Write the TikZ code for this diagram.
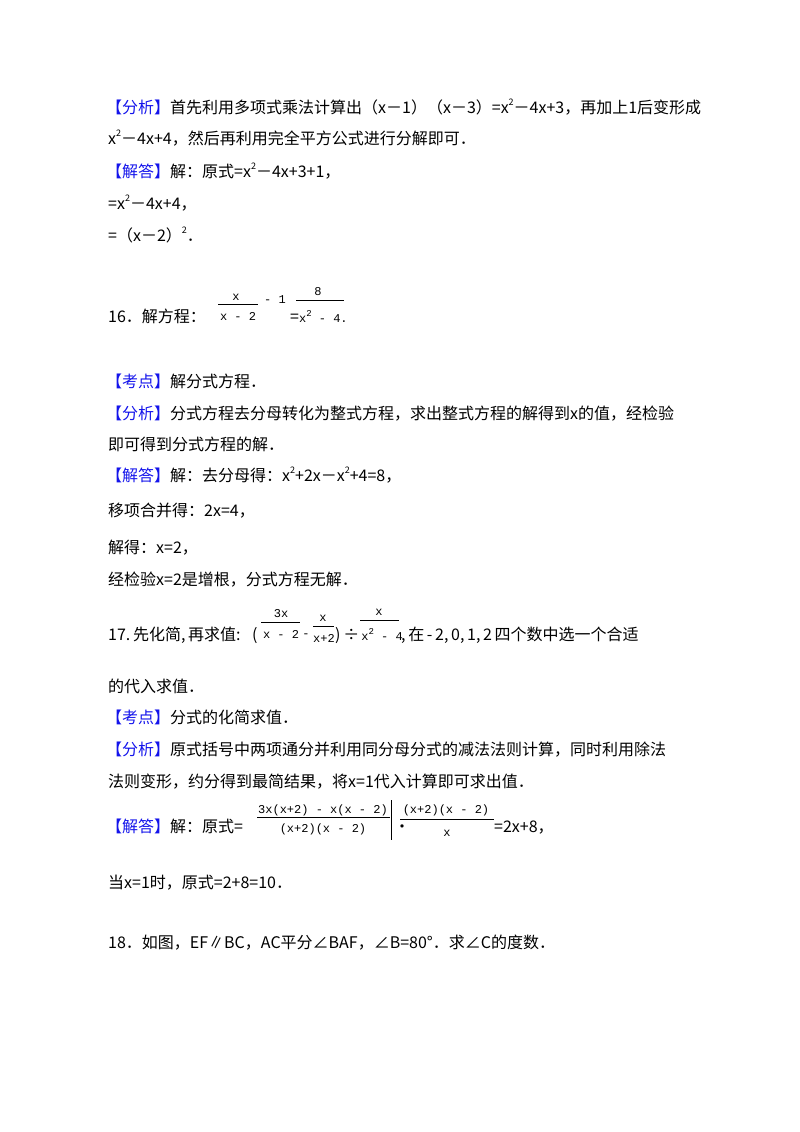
\documentclass[tikz,border=0pt]{standalone}
\usepackage{fontspec}
\setmainfont{Noto Sans CJK SC}
\newfontfamily\fr{Liberation Mono}
\definecolor{bl}{RGB}{20,20,235}
\newcommand{\hd}[1]{{\color{bl}【#1】}}
\newcommand{\sq}{\raisebox{0.5em}{\fontsize{9}{9}\selectfont 2}}
\begin{document}
\begin{tikzpicture}[x=1pt,y=-1pt,
  t/.style={anchor=base west,inner sep=0pt,font=\fontsize{16}{18}\selectfont},
  f/.style={inner sep=0pt,font=\fr\fontsize{12}{14}\selectfont},
  fl/.style={line width=0.8pt}]
\useasboundingbox (0,0) rectangle (800,1132);
\node[t] (a1) at (106,113) {\hd{分析}首先利用多项式乘法计算出（x－1）（x－3）=x\sq－4x+3，再加上1后变形成};
\node[t] (a2) at (108,144) {x\sq－4x+4，然后再利用完全平方公式进行分解即可．};
\node[t] (a3) at (106,177) {\hd{解答}解：原式=x\sq－4x+3+1，};
\node[t] (a4) at (108,209) {=x\sq－4x+4，};
\node[t] (a5) at (108,241) {=（x－2）\sq．};
% 16
\node[t] (q16) at (108,322) {16．解方程：};
\node[f] (n1) at (236,297) {x};
\draw[fl] (218,304) -- (258,304);
\node[f] (d1) at (238,316) {x - 2};
\node[f] (m1) at (275,300) {- 1};
\node[f] (n2) at (318,292) {8};
\draw[fl] (296,300) -- (344,300);
\node[t] (d2) at (290,322) {=\fr\fontsize{12}{14}\selectfont x\sq\ - 4.};
\node[t] (b1) at (106,387) {\hd{考点}解分式方程．};
\node[t] (b2) at (106,419) {\hd{分析}分式方程去分母转化为整式方程，求出整式方程的解得到x的值，经检验};
\node[t] (b3) at (108,450) {即可得到分式方程的解．};
\node[t] (b4) at (106,481) {\hd{解答}解：去分母得：x\sq+2x－x\sq+4=8，};
\node[t] (b5) at (108,516) {移项合并得：2x=4，};
\node[t] (b6) at (108,553) {解得：x=2，};
\node[t] (b7) at (108,585) {经检验x=2是增根，分式方程无解．};
% 17
\node[t] (q17) at (108,640) {17.\,先化简,\,再求值:};
\node[t] (lp) at (252,640) {(};
\node[f] (n3) at (281,614) {3x};
\draw[fl] (261,622) -- (300,622);
\node[f] (d3) at (281,634) {x - 2};
\node[f] (mm) at (306,636) {-};
\node[f] (n4) at (323,618) {x};
\draw[fl] (313,626) -- (334,626);
\node[f] (d4) at (324,638) {x+2};
\node[t] (dv) at (335,640) {)\,÷};
\node[f] (n5) at (379,612) {x};
\draw[fl] (360,620) -- (399,620);
\node[f] (d5) at (382,634) {x\sq\ - 4};
\node[t] (q17b) at (401,640) {,\,在\,-\,2,\,0,\,1,\,2\,四个数中选一个合适};
\node[t] (c0) at (108,692) {的代入求值．};
\node[t] (c1) at (106,723) {\hd{考点}分式的化简求值．};
\node[t] (c2) at (106,755) {\hd{分析}原式括号中两项通分并利用同分母分式的减法法则计算，同时利用除法};
\node[t] (c3) at (108,787) {法则变形，约分得到最简结果，将x=1代入计算即可求出值．};
\node[t] (c4) at (106,832) {\hd{解答}解：原式=};
\node[f] (n6) at (323,810) {3x(x+2) - x(x - 2)};
\draw[fl] (257,817) -- (390,817);
\node[f] (d6) at (323,829) {(x+2)(x - 2)};
\draw[line width=0.6pt] (391,800) -- (391,840);
\node[t] (dot) at (394,832) {•};
\node[f] (n7) at (446,810) {(x+2)(x - 2)};
\draw[fl] (400,819) -- (494,819);
\node[f] (d7) at (447,833) {x};
\node[t] (c5) at (494,832) {=2x+8，};
\node[t] (c6) at (108,888) {当x=1时，原式=2+8=10．};
\node[t] (q18) at (108,948) {18．如图，EF∥BC，AC平分∠BAF，∠B=80°．求∠C的度数．};
\end{tikzpicture}
\end{document}
